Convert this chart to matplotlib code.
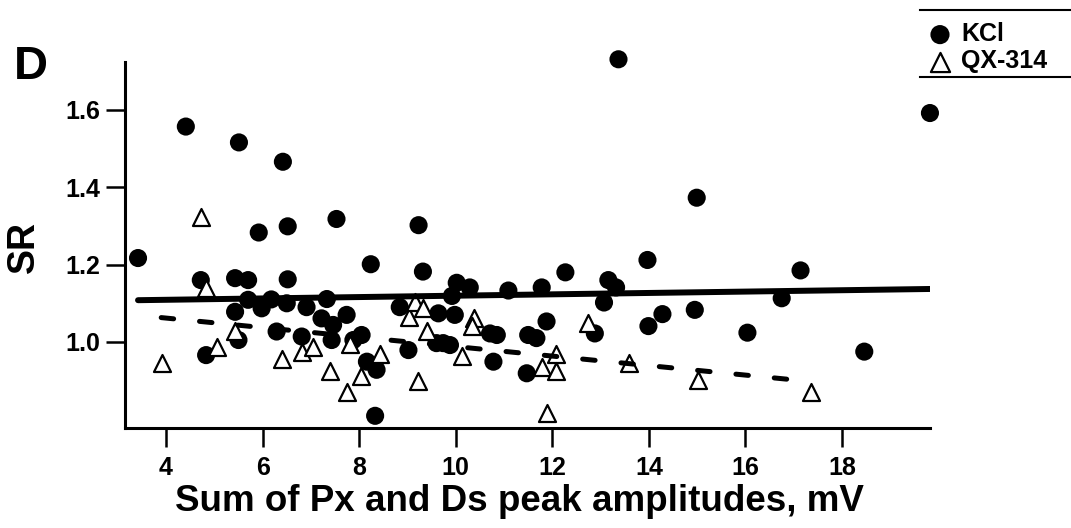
import matplotlib
matplotlib.use('Agg')
import matplotlib.pyplot as plt
from matplotlib.lines import Line2D

plt.rcParams['font.family'] = ['Liberation Sans', 'DejaVu Sans']

# KCl points (sum of Px and Ds peak amplitudes, SR)
kcl_x = [3.42, 4.41, 5.51, 6.42, 7.53, 9.23, 6.52, 5.92, 8.24, 9.32,
         4.72, 5.43, 5.70, 6.52, 5.70, 5.98, 6.18, 6.50, 6.91, 7.33,
         5.43, 7.22, 7.74, 7.46, 6.29, 6.81, 5.50, 7.43, 8.05, 7.88,
         4.83, 8.16, 8.36, 8.33, 8.84, 9.02, 9.74, 10.02, 10.29, 9.92,
         11.09, 11.78, 12.27, 13.16, 13.32, 13.07, 13.97, 14.99, 14.95, 14.28,
         13.99, 9.64, 9.98, 9.60, 9.88, 10.71, 10.85, 10.78, 11.50, 11.67,
         11.88, 11.47, 12.88, 17.14, 16.75, 16.04, 18.46, 19.82, 13.37]
kcl_y = [1.217, 1.557, 1.516, 1.466, 1.318, 1.302, 1.299, 1.283, 1.201, 1.182,
         1.160, 1.165, 1.160, 1.162, 1.109, 1.087, 1.110, 1.100, 1.090, 1.111,
         1.078, 1.061, 1.070, 1.044, 1.027, 1.014, 1.005, 1.005, 1.018, 1.005,
         0.966, 0.949, 0.928, 0.809, 1.090, 0.979, 0.997, 1.153, 1.141, 1.119,
         1.133, 1.141, 1.180, 1.160, 1.141, 1.102, 1.212, 1.373, 1.083, 1.072,
         1.041, 1.074, 1.070, 0.997, 0.992, 1.022, 1.018, 0.949, 1.018, 1.010,
         1.053, 0.919, 1.022, 1.185, 1.113, 1.024, 0.975, 1.592, 1.731]

# QX-314 points
qx_x = [3.91, 4.72, 4.82, 5.05, 5.42, 6.41, 6.81, 7.05, 7.40, 7.74,
        8.03, 7.82, 8.44, 9.22, 9.03, 9.16, 9.32, 9.41, 10.38, 10.33,
        10.12, 11.88, 11.78, 12.08, 12.08, 12.74, 13.59, 15.02, 17.35]
qx_y = [0.945, 1.324, 1.139, 0.986, 1.029, 0.956, 0.975, 0.988, 0.925, 0.871,
        0.912, 0.995, 0.968, 0.898, 1.065, 1.103, 1.087, 1.029, 1.063, 1.040,
        0.964, 0.815, 0.935, 0.969, 0.925, 1.048, 0.945, 0.902, 0.871]

# regression lines (end points)
kcl_fit_x = [3.42, 19.82]
kcl_fit_y = [1.108, 1.137]
qx_fit_x = [3.9, 17.0]
qx_fit_y = [1.063, 0.902]

fig = plt.figure(figsize=(10.71, 5.28), dpi=100)
ax = fig.add_axes([0.1167, 0.1894, 0.7516, 0.6932])

ax.scatter(kcl_x, kcl_y, s=170, color='black', edgecolors='none',
           zorder=2, clip_on=False, label='KCl')
ax.scatter(qx_x, qx_y, s=150, marker='^', facecolors='white',
           edgecolors='black', linewidths=1.6, zorder=3, label='QX-314')
ax.plot(kcl_fit_x, kcl_fit_y, color='black', lw=4.3,
        solid_capstyle='round', zorder=4)
ax.plot(qx_fit_x, qx_fit_y, color='black', lw=3.6, dashes=(2.5, 5.2),
        dash_capstyle='round', zorder=4)

ax.set_xlim(3.15, 19.82)
ax.set_ylim(0.7775, 1.724)
ax.set_xticks([4, 6, 8, 10, 12, 14, 16, 18])
ax.set_yticks([1.0, 1.2, 1.4, 1.6])
ax.set_yticklabels(['1.0', '1.2', '1.4', '1.6'])

for side in ['top', 'right']:
    ax.spines[side].set_visible(False)
for side in ['left', 'bottom']:
    ax.spines[side].set_linewidth(2.2)
ax.tick_params(axis='both', direction='out', length=14, width=1.8,
               labelsize=18)
ax.tick_params(axis='x', pad=6)
ax.tick_params(axis='y', pad=4)
for lab in ax.get_xticklabels() + ax.get_yticklabels():
    lab.set_fontweight('bold')

ax.set_xlabel('Sum of Px and Ds peak amplitudes, mV', fontsize=26.5,
              fontweight='bold')
ax.xaxis.set_label_coords(0.49, -0.152)
ax.set_ylabel('SR', fontsize=27, fontweight='bold')
ax.yaxis.set_label_coords(-0.103, 0.495)

fig.text(0.029, 0.873, 'D', fontsize=34, fontweight='bold',
         ha='center', va='center')

# legend with rules above and below
leg = fig.legend(loc='upper left', bbox_to_anchor=(0.866, 0.958),
                 frameon=False, prop={'size': 18, 'weight': 'bold'},
                 handletextpad=0.35, labelspacing=0.12, borderaxespad=0,
                 borderpad=0, handlelength=1.0)
for h in leg.legend_handles:
    h.set_sizes([190])
fig.add_artist(Line2D([0.859, 1.0], [0.981, 0.981], color='black', lw=1.5))
fig.add_artist(Line2D([0.859, 1.0], [0.854, 0.854], color='black', lw=1.5))

fig.savefig('out.png', dpi=100)
